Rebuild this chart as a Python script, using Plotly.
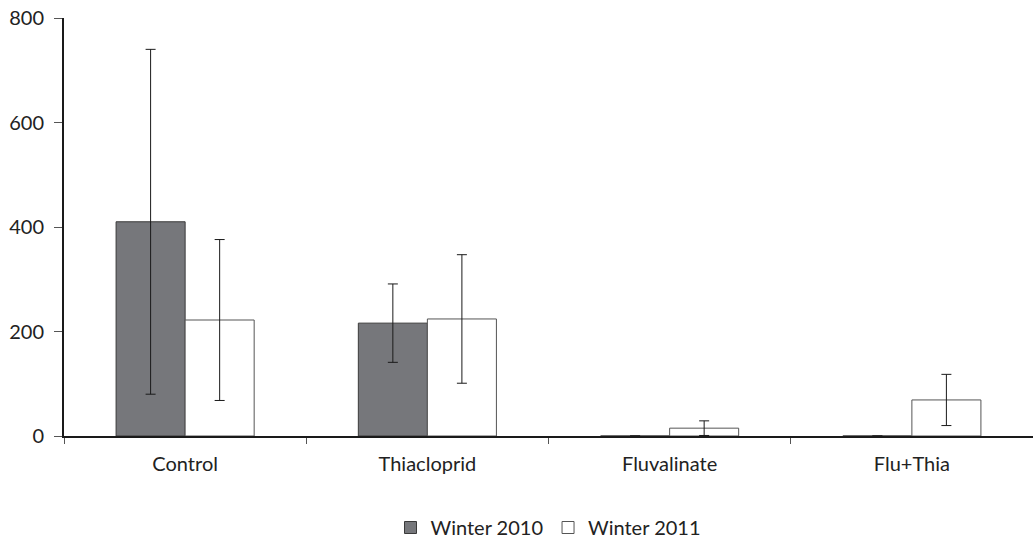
import plotly.graph_objects as go

categories = ["Control", "Thiacloprid", "Fluvalinate", "Flu+Thia"]
winter_2010 = [410, 216, 0, 0]
winter_2010_err = [330, 75, 0, 0]
winter_2011 = [222, 224, 15, 69]
winter_2011_err = [154, 123, 14, 49]
y_ticks = [0, 200, 400, 600, 800]

fig = go.Figure()
fig.add_trace(go.Bar(
    name="Winter 2010", x=categories, y=winter_2010,
    marker=dict(color="#76777b", line=dict(color="#3a3a3a", width=1)),
    error_y=dict(type="data", array=winter_2010_err, color="#1a1a1a", thickness=1, width=5),
))
fig.add_trace(go.Bar(
    name="Winter 2011", x=categories, y=winter_2011,
    marker=dict(color="#ffffff", line=dict(color="#555555", width=1)),
    error_y=dict(type="data", array=winter_2011_err, color="#1a1a1a", thickness=1, width=5),
))

fig.update_layout(
    width=1033, height=547,
    margin=dict(l=64, r=0, t=18, b=111, autoexpand=False),
    paper_bgcolor="white", plot_bgcolor="white",
    barmode="group", bargap=0.43, bargroupgap=0,
    font=dict(family="Lato, Open Sans, sans-serif", size=20, color="#222222"),
    showlegend=True,
    legend=dict(orientation="h", x=0.5, xanchor="center", yref="container", y=-0.013,
                yanchor="bottom", font=dict(size=20), itemwidth=30, traceorder="normal"),
)
fig.update_xaxes(
    showline=True, linecolor="#1a1a1a", linewidth=2,
    ticks="outside", tickson="boundaries", ticklen=6, tickcolor="#555555",
    showgrid=False, ticklabelstandoff=9,
)
fig.update_yaxes(
    range=[0, 800], tickvals=y_ticks, showline=True, linecolor="#1a1a1a", linewidth=2,
    ticks="outside", ticklen=8, tickcolor="#555555", showgrid=False, zeroline=False,
    ticklabelstandoff=6,
)
fig.write_html("out.html", config={"displayModeBar": False},
               post_script="document.body.style.margin='0';document.body.style.overflow='hidden';")
